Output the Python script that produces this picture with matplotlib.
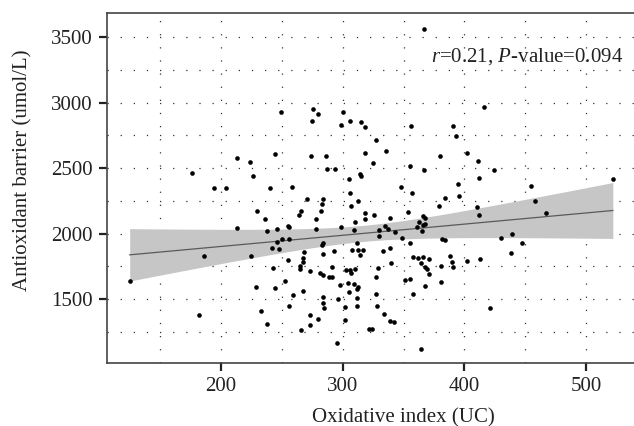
import numpy as np
import matplotlib.pyplot as plt

plt.rcParams['font.family'] = 'Liberation Serif'
plt.rcParams['mathtext.fontset'] = 'custom'
plt.rcParams['mathtext.rm'] = 'Liberation Serif'
plt.rcParams['mathtext.it'] = 'Liberation Serif:italic'

# oxidative index (UC)
oxidative = np.array([
    249, 276, 280, 275, 300, 299, 306, 315, 318, 318, 213, 224, 244, 274, 286, 226, 287, 294, 314, 315,
    305, 176, 194, 204, 240, 258, 306, 271, 284, 367, 416, 356, 391, 393, 327, 336, 325, 355, 367, 380,
    402, 411, 424, 412, 348, 357, 395, 396, 384, 455, 522, 313, 230, 283, 282, 266, 264, 307, 318, 326,
    379, 366, 368, 354, 236, 278, 339, 318, 238, 246, 255, 256, 250, 256, 246, 242, 248, 225, 278, 284,
    283, 299, 310, 309, 330, 335, 337, 343, 349, 361, 363, 366, 365, 382, 384, 268, 312, 308, 313, 317,
    333, 339, 355, 358, 362, 366, 371, 388, 213, 186, 293, 314, 458, 467, 410, 412, 330, 368, 430, 439,
    447, 438, 267, 255, 267, 265, 265, 284, 364, 368, 369, 371, 381, 381, 340, 329, 291, 303, 306, 307,
    310, 273, 281, 284, 243, 253, 289, 291, 327, 351, 355, 368, 229, 244, 298, 309, 313, 312, 305, 259,
    267, 284, 312, 327, 358, 296, 284, 285, 256, 302, 312, 328, 233, 273, 334, 280, 302, 339, 342, 238,
    273, 266, 322, 324, 295, 364, 125, 182, 390, 391, 402, 413, 421, 304,
])

# antioxidant barrier (umol/L)
antioxidant = np.array([
    2930, 2950, 2910, 2860, 2930, 2830, 2860, 2850, 2810, 2615, 2580, 2550, 2605, 2595, 2590, 2440, 2490, 2490, 2455, 2437,
    2416, 2462, 2350, 2345, 2350, 2355, 2312, 2264, 2264, 3560, 2964, 2821, 2821, 2742, 2716, 2630, 2541, 2513, 2487, 2594,
    2617, 2556, 2487, 2424, 2358, 2307, 2376, 2287, 2274, 2365, 2416, 2249, 2172, 2223, 2175, 2170, 2144, 2208, 2157, 2142,
    2213, 2136, 2121, 2165, 2109, 2109, 2117, 2109, 2017, 2033, 2058, 2050, 1958, 1961, 1936, 1890, 1882, 1831, 2033, 1926,
    1913, 2048, 2086, 2025, 2030, 2060, 2037, 2014, 1964, 2048, 2088, 2068, 2022, 1961, 1949, 1859, 1926, 1877, 1877, 1875,
    1867, 1890, 1926, 1823, 1813, 1819, 1806, 1831, 2042, 1831, 1867, 1839, 2251, 2159, 2205, 2142, 1984, 2073, 1964, 1994,
    1926, 1852, 1813, 1800, 1783, 1730, 1755, 1844, 1773, 1745, 1732, 1694, 1750, 1628, 1778, 1737, 1745, 1724, 1724, 1699,
    1730, 1716, 1697, 1686, 1735, 1636, 1668, 1668, 1668, 1645, 1655, 1600, 1594, 1584, 1605, 1617, 1592, 1577, 1554, 1529,
    1559, 1513, 1508, 1536, 1536, 1498, 1472, 1434, 1445, 1439, 1445, 1445, 1407, 1376, 1386, 1350, 1338, 1335, 1323, 1312,
    1302, 1264, 1274, 1274, 1165, 1121, 1640, 1381, 1785, 1747, 1793, 1806, 1429, 1620,
])

stat_text = r'$r$=0.21, $P$-value=0.094'

# linear fit with 95% confidence band
n = len(oxidative)
slope, intercept = np.polyfit(oxidative, antioxidant, 1)
resid = antioxidant - (slope * oxidative + intercept)
s_err = np.sqrt(np.sum(resid ** 2) / (n - 2))
x_mean = oxidative.mean()
sxx = np.sum((oxidative - x_mean) ** 2)
xfit = np.linspace(oxidative.min(), oxidative.max(), 200)
yfit = slope * xfit + intercept
half = 1.97 * s_err * np.sqrt(1.0 / n + (xfit - x_mean) ** 2 / sxx)

fig = plt.figure(figsize=(6.34, 4.26), dpi=100)
ax = fig.add_axes([106.7 / 634, (426 - 363.3) / 426, (634 - 106.7) / 634, 350 / 426])

ax.fill_between(xfit, yfit - half, yfit + half, color='#c6c6c6', lw=0, zorder=2)
ax.plot(xfit, yfit, color='#5a5a5a', lw=0.9, zorder=3)
ax.scatter(oxidative, antioxidant, s=11, c='black', lw=0, zorder=4)

ax.set_xlim(106.1, 539.4)
ax.set_ylim(1009.6, 3681.5)
ax.set_xticks([200, 300, 400, 500])
ax.set_xticks(np.arange(150, 550, 100), minor=True)
ax.set_yticks([1500, 2000, 2500, 3000, 3500])
ax.set_yticks(np.arange(1250, 3750, 500), minor=True)
ax.grid(True, which='both', color='#333333', lw=0.9, linestyle=(0, (1, 9.5)), zorder=1)
ax.set_axisbelow(True)

ax.tick_params(which='major', length=5.5, width=1.6, color='#222222', labelsize=15, pad=4.5,
               labelcolor='#222222')
ax.tick_params(which='minor', length=0)
for side in ['left', 'bottom', 'top']:
    ax.spines[side].set_color('#444444')
    ax.spines[side].set_linewidth(1.2)
ax.spines['right'].set_visible(False)

ax.text(0.9797, 0.8617, stat_text, transform=ax.transAxes, ha='right', va='baseline',
        fontsize=15, color='#222222')

fig.text(403.5 / 634, 3.5 / 426, 'Oxidative index (UC)', ha='center', va='baseline',
         fontsize=15, color='#222222')
fig.text(23 / 634, 1 - 170 / 426, 'Antioxidant barrier (umol/L)', ha='center', va='center',
         rotation=90, fontsize=15, color='#222222')

fig.savefig('out.png', dpi=100)
